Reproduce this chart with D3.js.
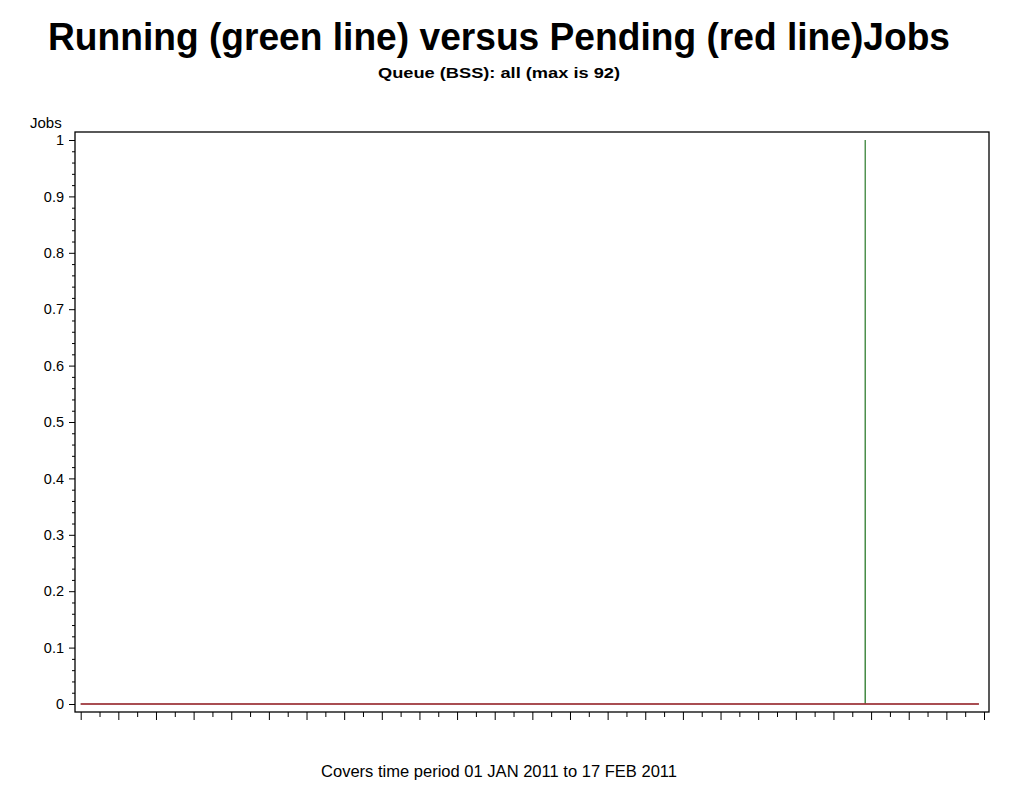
<!DOCTYPE html>
<html>
<head>
<meta charset="utf-8">
<script src="https://cdn.jsdelivr.net/npm/d3@7"></script>
<style>
  html, body { margin: 0; padding: 0; background: #fff; }
  svg { display: block; }
</style>
</head>
<body>
<svg id="chart" width="1010" height="795"></svg>
<script>
// ---- Data ----
const titleText = "Running (green line) versus Pending (red line)Jobs";
const subtitleText = "Queue (BSS): all (max is 92)";
const footnoteText = "Covers time period 01 JAN 2011 to 17 FEB 2011";
const yLabel = "Jobs";
const xDomain = ["2011-01-01T00:00", "2011-02-18T00:00"];
const yTicks = [0, 0.1, 0.2, 0.3, 0.4, 0.5, 0.6, 0.7, 0.8, 0.9, 1];
const runningTimes  = ["2011-01-01T00:00", "2011-02-11T16:25", "2011-02-11T16:30", "2011-02-11T16:35", "2011-02-17T17:30"];
const runningValues = [0, 0, 1, 0, 0];
const pendingTimes  = ["2011-01-01T00:00", "2011-02-17T17:30"];
const pendingValues = [0, 0];

// ---- Setup ----
const parse = d3.utcParse("%Y-%m-%dT%H:%M");
const svg = d3.select("#chart");
const frame = { left: 75, top: 132, right: 989, bottom: 712 };

const x = d3.scaleUtc().domain(xDomain.map(parse)).range([80.7, 984]);
const y = d3.scaleLinear().domain([0, 1]).range([704, 140]);

const font = "'Liberation Sans', Arial, Helvetica, sans-serif";

// Titles
svg.append("text")
  .attr("x", 499).attr("y", 50)
  .attr("text-anchor", "middle")
  .attr("font-family", font).attr("font-weight", "bold")
  .attr("font-size", 39)
  .attr("textLength", 902).attr("lengthAdjust", "spacingAndGlyphs")
  .attr("fill", "#000")
  .text(titleText);

svg.append("text")
  .attr("x", 499).attr("y", 78)
  .attr("text-anchor", "middle")
  .attr("font-family", font).attr("font-weight", "bold")
  .attr("font-size", 15.5)
  .attr("textLength", 242).attr("lengthAdjust", "spacingAndGlyphs")
  .attr("fill", "#000")
  .text(subtitleText);

// Frame
svg.append("rect")
  .attr("x", frame.left).attr("y", frame.top)
  .attr("width", frame.right - frame.left).attr("height", frame.bottom - frame.top)
  .attr("fill", "none").attr("stroke", "#000").attr("stroke-width", 1.3);

// Y axis
const yAxisMajor = d3.axisLeft(y).tickValues(yTicks).tickSize(6).tickPadding(5)
  .tickFormat(d => d === 0 ? "0" : d === 1 ? "1" : d3.format(".1f")(d));
const yG = svg.append("g").attr("transform", `translate(${frame.left},0)`).call(yAxisMajor);
yG.select(".domain").remove();
yG.selectAll("text").attr("font-family", font).attr("font-size", 14.5).attr("fill", "#000");
yG.selectAll("line").attr("stroke", "#000");

const yMinor = d3.range(0, 1.0001, 0.02).filter(v => Math.abs(v * 10 - Math.round(v * 10)) > 1e-6);
const yMinorAxis = d3.axisLeft(y).tickValues(yMinor).tickSize(3).tickFormat("");
const yMG = svg.append("g").attr("transform", `translate(${frame.left},0)`).call(yMinorAxis);
yMG.select(".domain").remove();
yMG.selectAll("line").attr("stroke", "#000");

svg.append("text")
  .attr("x", 30).attr("y", 128)
  .attr("font-family", font).attr("font-size", 15)
  .attr("fill", "#000")
  .text(yLabel);

// X axis (ticks only, no labels): major every 2 days from start, minor on the days between
const allDays = d3.utcDay.range(x.domain()[0], d3.utcDay.offset(x.domain()[1], 1));
const xMajorVals = allDays.filter((d, i) => i % 2 === 0);
const xMinorVals = allDays.filter((d, i) => i % 2 === 1);

const xAxisMajor = d3.axisBottom(x).tickValues(xMajorVals).tickSize(8).tickFormat("");
const xG = svg.append("g").attr("transform", `translate(0,${frame.bottom})`).call(xAxisMajor);
xG.select(".domain").remove();
xG.selectAll("line").attr("stroke", "#000");

const xAxisMinor = d3.axisBottom(x).tickValues(xMinorVals).tickSize(5).tickFormat("");
const xMG = svg.append("g").attr("transform", `translate(0,${frame.bottom})`).call(xAxisMinor);
xMG.select(".domain").remove();
xMG.selectAll("line").attr("stroke", "#000");

// Lines
const line = d3.line().x(d => x(d.t)).y(d => y(d.v));
const running = runningTimes.map((t, i) => ({ t: parse(t), v: runningValues[i] }));
const pending = pendingTimes.map((t, i) => ({ t: parse(t), v: pendingValues[i] }));

svg.append("path").datum(running)
  .attr("d", line).attr("fill", "none")
  .attr("stroke", "#2a7a2a").attr("stroke-width", 1.2);

svg.append("path").datum(pending)
  .attr("d", line).attr("fill", "none")
  .attr("stroke", "#b0283c").attr("stroke-width", 1.5);

// Footnote
svg.append("text")
  .attr("x", 499).attr("y", 777)
  .attr("text-anchor", "middle")
  .attr("font-family", font).attr("font-size", 16)
  .attr("textLength", 356).attr("lengthAdjust", "spacingAndGlyphs")
  .attr("fill", "#000")
  .text(footnoteText);
</script>
</body>
</html>
